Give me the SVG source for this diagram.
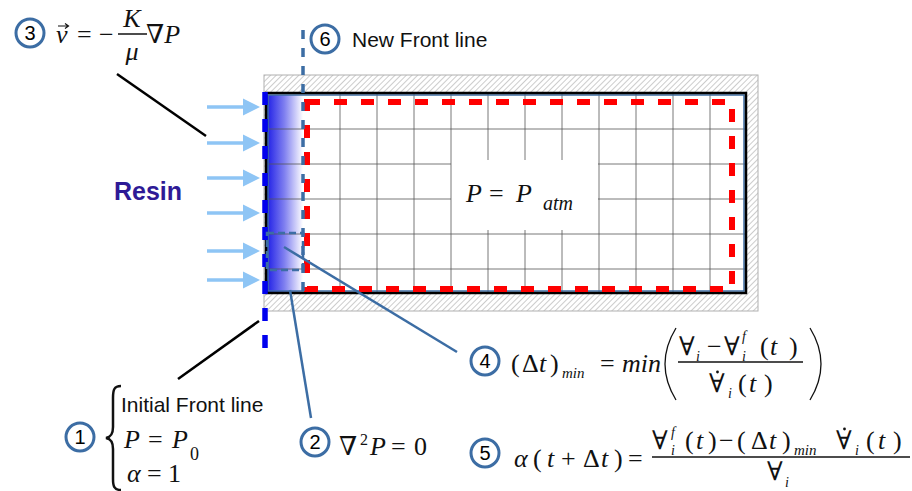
<svg xmlns="http://www.w3.org/2000/svg" width="912" height="491" viewBox="0 0 912 491">
<style>
.num{font-family:"Liberation Sans",Arial,sans-serif;font-size:20px;fill:#000;text-anchor:middle}
.lbl{font-family:"Liberation Sans",Arial,sans-serif;font-size:21px;fill:#111}
.m{font-family:"Liberation Serif","Times New Roman",serif;font-size:26px;fill:#111}
.mi{font-style:italic}
.sym{font-family:"DejaVu Serif","Liberation Serif",serif}
.circ{fill:#fff;stroke:#3c6da4;stroke-width:3}
.conn{stroke:#3c6da4;stroke-width:2.5;fill:none}
.blk{stroke:#000;stroke-width:2.5;fill:none}
.grid{stroke:#555;stroke-width:0.8}
.arr{stroke:#8ec5f5;stroke-width:3.5;marker-end:url(#ah)}
.dot{fill:#111}
</style>
<defs>
<pattern id="hatch" width="4" height="4" patternUnits="userSpaceOnUse" patternTransform="rotate(45)">
<rect width="4" height="4" fill="#fff"/>
<line x1="0" y1="0" x2="0" y2="4" stroke="#9a9a9a" stroke-width="1"/>
</pattern>
<linearGradient id="resin" x1="0" y1="0" x2="1" y2="0">
<stop offset="0" stop-color="#1a1ae6"/>
<stop offset="0.5" stop-color="#8080f0"/>
<stop offset="1" stop-color="#ffffff"/>
</linearGradient>
<marker id="ah" markerWidth="5" markerHeight="5" refX="1" refY="2.5" orient="auto" markerUnits="strokeWidth">
<path d="M0,0 L5,2.5 L0,5 z" fill="#8ec5f5"/>
</marker>
</defs>
<rect width="912" height="491" fill="#fff"/>

<g id="mould">
<rect x="264" y="75" width="494" height="236" fill="url(#hatch)" stroke="#b0b0b0" stroke-width="1"/>
<rect x="266" y="93" width="480" height="200" fill="#fff"/>
<rect x="266" y="95" width="37" height="197" fill="url(#resin)"/>
<g class="grid">
<line x1="340" y1="93" x2="340" y2="293"/>
<line x1="377" y1="93" x2="377" y2="293"/>
<line x1="414" y1="93" x2="414" y2="293"/>
<line x1="451" y1="93" x2="451" y2="293"/>
<line x1="488" y1="93" x2="488" y2="160"/><line x1="488" y1="230" x2="488" y2="293"/>
<line x1="525" y1="93" x2="525" y2="160"/><line x1="525" y1="230" x2="525" y2="293"/>
<line x1="562" y1="93" x2="562" y2="160"/><line x1="562" y1="230" x2="562" y2="293"/>
<line x1="599" y1="93" x2="599" y2="293"/>
<line x1="636" y1="93" x2="636" y2="293"/>
<line x1="673" y1="93" x2="673" y2="293"/>
<line x1="710" y1="93" x2="710" y2="293"/>
<line x1="266" y1="129" x2="746" y2="129"/>
<line x1="266" y1="164" x2="451" y2="164"/><line x1="598" y1="164" x2="746" y2="164"/>
<line x1="266" y1="199" x2="451" y2="199"/><line x1="598" y1="199" x2="746" y2="199"/>
<line x1="266" y1="234" x2="746" y2="234"/>
<line x1="266" y1="269" x2="746" y2="269"/>
</g>
<rect x="268" y="95" width="476" height="196" fill="none" stroke="#3c6da4" stroke-width="1.5"/>
<rect x="266" y="93" width="480" height="200" class="blk" stroke-width="3"/>
<rect x="307" y="102" width="425" height="187" fill="none" stroke="#ff0000" stroke-width="6" stroke-dasharray="13 14"/>
</g>

<g id="initial-front">
<line x1="265" y1="92" x2="265" y2="349" stroke="#0000ee" stroke-width="5.5" stroke-dasharray="13 14"/>
</g>
<g id="new-front">
<line x1="303" y1="30" x2="303" y2="300" stroke="#3c6da4" stroke-width="3.5" stroke-dasharray="9 9"/>
</g>
<g id="cell">
<rect x="267" y="233" width="36" height="37" fill="none" stroke="#3c6da4" stroke-width="2.5" stroke-dasharray="7 4"/>
</g>

<g id="inlet-arrows">
<line x1="207" y1="107" x2="246" y2="107" class="arr"/>
<line x1="207" y1="143" x2="246" y2="143" class="arr"/>
<line x1="207" y1="178" x2="246" y2="178" class="arr"/>
<line x1="207" y1="213" x2="246" y2="213" class="arr"/>
<line x1="207" y1="251" x2="246" y2="251" class="arr"/>
<line x1="207" y1="280" x2="246" y2="280" class="arr"/>
</g>

<g id="resin-label">
<text x="114" y="200" font-family="Liberation Sans,Arial,sans-serif" font-size="25" font-weight="bold" fill="#2e1a96">Resin</text>
</g>

<g id="patm">
<text x="466" y="202" class="m" font-size="32"><tspan class="mi">P</tspan><tspan x="489">=</tspan><tspan x="516" class="mi">P</tspan><tspan x="543" y="210" font-size="20" class="mi">atm</tspan></text>
</g>

<g id="connectors">
<line x1="117" y1="74" x2="206" y2="136" class="blk"/>
<line x1="259" y1="321" x2="178" y2="379" class="blk"/>
<line x1="290" y1="290" x2="311" y2="418" class="conn"/>
<line x1="284" y1="247" x2="457" y2="352" class="conn"/>
</g>

<g id="node3">
<circle cx="30" cy="33" r="14" class="circ"/>
<text x="30" y="40" class="num">3</text>
<text x="56" y="43" class="m"><tspan class="mi">v</tspan><tspan x="77">=</tspan><tspan x="99">−</tspan></text>
<path d="M58,26 L68,26 M65,23.5 L68.5,26 L65,28.5" stroke="#111" stroke-width="1.2" fill="none"/>
<line x1="118" y1="34" x2="147" y2="34" stroke="#111" stroke-width="1.5"/>
<text x="132" y="27" class="m mi" text-anchor="middle">K</text>
<text x="132" y="60" class="m mi" text-anchor="middle">μ</text>
<text x="146" y="43" class="m"><tspan class="sym">∇</tspan><tspan class="mi">P</tspan></text>
</g>

<g id="node6">
<circle cx="325" cy="39" r="14" class="circ"/>
<text x="325" y="46" class="num">6</text>
<text x="352" y="47" class="lbl">New Front line</text>
</g>

<g id="node1">
<circle cx="80" cy="437" r="14" class="circ"/>
<text x="80" y="444" class="num">1</text>
<path d="M121,386 C114,386 113,390 113,398 L113,427 C113,434 111,437 106,438 C111,439 113,442 113,449 L113,479 C113,486 114,490 121,490" stroke="#111" stroke-width="2.5" fill="none"/>
<text x="121" y="412" class="lbl">Initial Front line</text>
<text x="124" y="448" class="m"><tspan class="mi">P</tspan><tspan x="148">=</tspan><tspan x="172" class="mi">P</tspan><tspan x="190" y="460" font-size="18">0</tspan></text>
<text x="127" y="482" class="m"><tspan class="mi">α</tspan><tspan x="147">=</tspan><tspan x="168">1</tspan></text>
</g>

<g id="node2">
<circle cx="315" cy="442" r="14" class="circ"/>
<text x="315" y="449" class="num">2</text>
<text x="339" y="455" class="m"><tspan class="sym">∇</tspan><tspan x="360" dy="-10" font-size="16">2</tspan><tspan x="370" dy="10" class="mi">P</tspan><tspan x="391">=</tspan><tspan x="414">0</tspan></text>
</g>

<g id="node4">
<circle cx="485" cy="361" r="14" class="circ"/>
<text x="485" y="368" class="num">4</text>
<text y="372" class="m" font-size="24"><tspan x="511">(</tspan><tspan x="522">Δ</tspan><tspan x="539" class="mi">t</tspan><tspan x="550">)</tspan><tspan x="562" y="378" font-size="15" class="mi">min</tspan><tspan x="600" y="372">=</tspan><tspan x="622" class="mi">min</tspan></text>
<path d="M676,328 Q654,364 676,400" stroke="#111" stroke-width="1.3" fill="none"/>
<path d="M810,328 Q832,364 810,400" stroke="#111" stroke-width="1.3" fill="none"/>
<line x1="678" y1="362" x2="803" y2="362" stroke="#111" stroke-width="1.5"/>
<text y="355" class="m" font-size="23"><tspan x="679" class="sym">∀</tspan><tspan x="696" y="361" font-size="14" class="mi">i</tspan><tspan x="707" y="355">−</tspan><tspan x="724" class="sym">∀</tspan><tspan x="742" y="341" font-size="14" class="mi">f</tspan><tspan x="742" y="361" font-size="14" class="mi">i</tspan><tspan x="760" y="355">(</tspan><tspan x="770" class="mi">t</tspan><tspan x="789">)</tspan></text>
<text y="392" class="m" font-size="23"><tspan x="709" class="sym">∀</tspan><tspan x="728" y="398" font-size="14" class="mi">i</tspan><tspan x="738" y="392">(</tspan><tspan x="749" class="mi">t</tspan><tspan x="764">)</tspan></text>
<circle cx="717.5" cy="372" r="1.4" class="dot"/>
</g>

<g id="node5">
<circle cx="485" cy="453" r="14" class="circ"/>
<text x="485" y="460" class="num">5</text>
<text y="467" class="m"><tspan x="514" class="mi">α</tspan><tspan x="533">(</tspan><tspan x="547" class="mi">t</tspan><tspan x="561">+</tspan><tspan x="583">Δ</tspan><tspan x="601" class="mi">t</tspan><tspan x="614">)</tspan><tspan x="628">=</tspan></text>
<line x1="652" y1="457" x2="910" y2="457" stroke="#111" stroke-width="1.5"/>
<text y="449" class="m" font-size="24"><tspan x="652" class="sym">∀</tspan><tspan x="671" y="437" font-size="14" class="mi">f</tspan><tspan x="671" y="455" font-size="14" class="mi">i</tspan><tspan x="685" y="449">(</tspan><tspan x="696" class="mi">t</tspan><tspan x="708">)</tspan><tspan x="719">−</tspan><tspan x="737">(</tspan><tspan x="751">Δ</tspan><tspan x="769" class="mi">t</tspan><tspan x="782">)</tspan><tspan x="794" y="455" font-size="15" class="mi">min</tspan><tspan x="836" y="449" class="sym">∀</tspan><tspan x="855" y="455" font-size="14" class="mi">i</tspan><tspan x="866" y="449">(</tspan><tspan x="878" class="mi">t</tspan><tspan x="893">)</tspan></text>
<circle cx="844.5" cy="429" r="1.4" class="dot"/>
<text y="480" class="m" font-size="24"><tspan x="767" class="sym">∀</tspan><tspan x="785" y="487" font-size="14" class="mi">i</tspan></text>
</g>
</svg>
